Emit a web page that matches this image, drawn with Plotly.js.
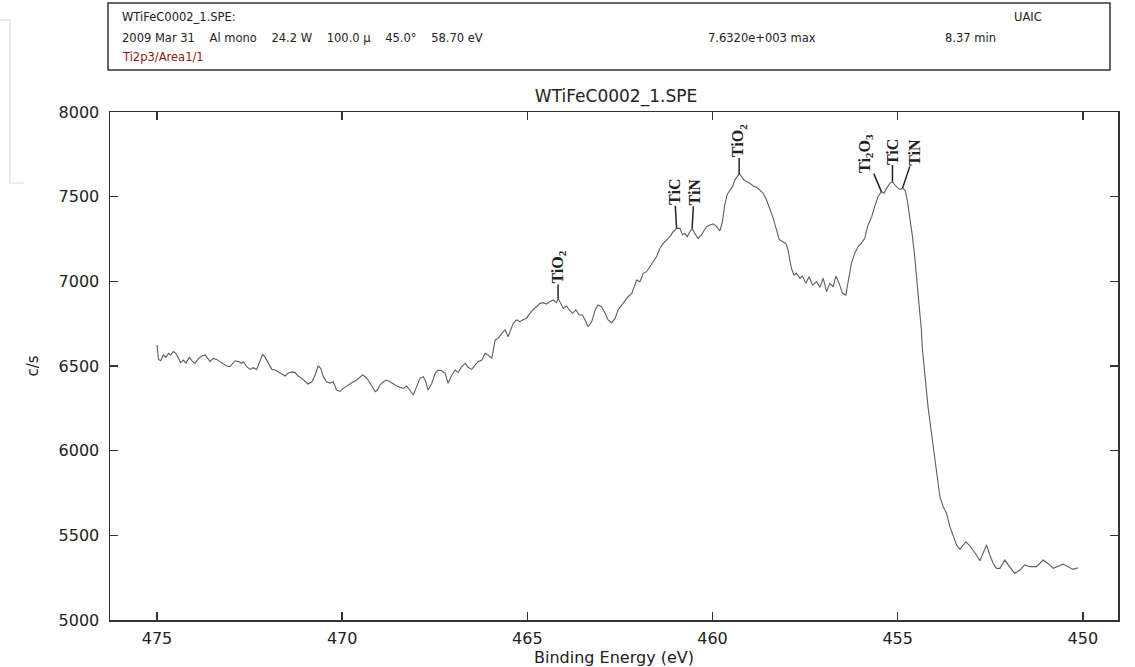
<!DOCTYPE html>
<html><head><meta charset="utf-8">
<script src="https://cdn.plot.ly/plotly-3.0.1.min.js"></script>
<style>html,body{margin:0;padding:0;background:#fff;}#chart{width:1135px;height:667px;}</style>
</head><body><div id="chart"></div>
<script>
// Binding energy (eV) and intensity (c/s)
const bindingEnergy = [
475.00,474.96,474.90,474.83,474.76,474.69,474.63,474.56,474.49,474.43,474.36,474.29,474.22,474.13,474.04,473.97,473.88,473.79,473.70,473.61,
473.57,473.48,473.39,473.30,473.21,473.12,473.03,472.96,472.89,472.80,472.71,472.67,472.58,472.49,472.40,472.31,472.22,472.15,472.08,472.00,
471.90,471.81,471.73,471.64,471.54,471.46,471.36,471.27,471.19,471.09,471.00,470.92,470.82,470.73,470.65,470.58,470.51,470.42,470.33,470.24,
470.15,470.06,469.97,469.88,469.79,469.70,469.61,469.52,469.45,469.38,469.30,469.20,469.11,469.05,468.98,468.89,468.80,468.71,468.62,468.53,
468.44,468.35,468.26,468.17,468.08,467.99,467.90,467.81,467.74,467.68,467.58,467.49,467.41,467.31,467.22,467.14,467.04,466.95,466.87,466.77,
466.68,466.60,466.50,466.41,466.33,466.23,466.14,466.06,465.96,465.87,465.79,465.69,465.60,465.52,465.45,465.38,465.29,465.20,465.11,465.03,
464.93,464.84,464.75,464.66,464.57,464.48,464.39,464.30,464.21,464.17,464.10,464.03,463.94,463.87,463.78,463.69,463.60,463.51,463.44,463.36,
463.26,463.17,463.09,463.00,462.90,462.82,462.72,462.63,462.55,462.45,462.36,462.28,462.18,462.12,462.05,461.96,461.87,461.78,461.69,461.60,
461.51,461.42,461.33,461.24,461.15,461.06,460.97,460.88,460.81,460.75,460.68,460.61,460.55,460.48,460.39,460.30,460.23,460.16,460.07,459.98,
459.89,459.80,459.73,459.67,459.60,459.53,459.46,459.40,459.33,459.28,459.21,459.15,459.08,458.99,458.90,458.81,458.72,458.63,458.54,458.45,
458.36,458.27,458.20,458.11,458.02,457.96,457.91,457.87,457.80,457.73,457.64,457.57,457.48,457.39,457.30,457.19,457.10,457.01,456.92,456.83,
456.74,456.67,456.58,456.49,456.40,456.34,456.25,456.16,456.07,455.98,455.89,455.80,455.70,455.62,455.53,455.44,455.37,455.30,455.21,455.14,
455.08,455.01,454.94,454.87,454.80,454.74,454.67,454.60,454.54,454.49,454.44,454.40,454.36,454.33,454.29,454.24,454.18,454.11,454.04,453.97,
453.91,453.86,453.77,453.68,453.59,453.50,453.41,453.32,453.23,453.16,453.07,452.96,452.87,452.78,452.69,452.60,452.51,452.42,452.33,452.24,
452.11,451.97,451.84,451.70,451.57,451.43,451.25,451.07,450.94,450.80,450.67,450.53,450.40,450.26,450.13
];
const countsPerSecond = [
6624,6539,6531,6565,6551,6575,6565,6585,6575,6545,6520,6535,6516,6551,6526,6516,6545,6559,6565,6539,
6526,6545,6539,6526,6512,6500,6496,6516,6531,6526,6516,6526,6496,6480,6490,6480,6535,6569,6551,6516,
6480,6476,6466,6453,6441,6457,6465,6461,6441,6427,6407,6394,6407,6447,6500,6486,6437,6407,6398,6407,
6358,6350,6368,6382,6398,6407,6417,6433,6447,6437,6417,6382,6348,6358,6388,6407,6417,6407,6394,6382,
6374,6368,6382,6358,6329,6378,6427,6437,6407,6358,6398,6457,6476,6472,6457,6398,6447,6476,6461,6496,
6516,6492,6480,6506,6525,6535,6575,6565,6545,6654,6663,6693,6713,6673,6713,6752,6772,6762,6775,6781,
6811,6835,6850,6870,6874,6866,6880,6890,6874,6899,6870,6840,6854,6831,6811,6831,6801,6801,6772,6732,
6762,6831,6860,6850,6811,6772,6756,6781,6831,6860,6890,6909,6929,6968,7008,6998,7047,7057,7087,7116,
7146,7195,7224,7244,7264,7293,7313,7313,7274,7283,7264,7293,7313,7283,7254,7274,7303,7323,7333,7339,
7323,7298,7355,7450,7515,7535,7559,7598,7618,7634,7618,7598,7589,7579,7563,7555,7539,7520,7480,7431,
7372,7303,7248,7234,7224,7185,7126,7077,7037,7047,7018,7031,6988,7027,6978,6998,6964,7018,6939,6988,
6968,7031,6988,6929,6919,6988,7106,7165,7205,7224,7254,7333,7382,7441,7500,7530,7520,7549,7579,7589,
7569,7555,7543,7549,7539,7480,7382,7264,7146,7027,6909,6811,6713,6594,6496,6378,6260,6142,6023,5905,
5807,5728,5669,5630,5551,5492,5443,5417,5443,5462,5443,5413,5384,5350,5394,5443,5384,5334,5305,5305,
5354,5315,5275,5295,5325,5315,5315,5354,5334,5305,5315,5330,5315,5299,5309
];
const xTickValues = [475, 470, 465, 460, 455, 450];
const yTickValues = [5000, 5500, 6000, 6500, 7000, 7500, 8000];
const peakNames = ["TiO<sub>2</sub>", "TiC", "TiN", "TiO<sub>2</sub>", "Ti<sub>2</sub>O<sub>3</sub>", "TiC", "TiN"];
const peakEnergies = [464.17, 460.97, 460.55, 459.28, 455.44, 455.14, 454.87];
const headerLines = [
  "WTiFeC0002_1.SPE:",
  "2009 Mar 31\u00a0\u00a0\u00a0\u00a0Al mono\u00a0\u00a0\u00a0\u00a024.2 W\u00a0\u00a0\u00a0\u00a0100.0 \u00b5\u00a0\u00a0\u00a0\u00a045.0\u00b0\u00a0\u00a0\u00a0\u00a058.70 eV",
  "Ti2p3/Area1/1"
];
const headerMax = "7.6320e+003 max";
const headerOrg = "UAIC";
const headerTime = "8.37 min";
const chartTitle = "WTiFeC0002_1.SPE";

// pixel helpers (plot area: x 110..1118, y 112..620)
const L = 110, R = 1118, T = 112, B = 620;
const px = v => (v - L) / (R - L);
const py = v => (B - v) / (B - T);

function nearestIndex(e) {
  let best = 0;
  for (let i = 1; i < bindingEnergy.length; i++) {
    if (Math.abs(bindingEnergy[i] - e) < Math.abs(bindingEnergy[best] - e)) best = i;
  }
  return best;
}

const peakOffsets = [[0, -31], [-2, -36], [2, -36], [0, -33], [-16, -38], [0, -30], [12, -36]];
const annotations = peakNames.map((name, i) => {
  const k = nearestIndex(peakEnergies[i]);
  return {
    x: bindingEnergy[k], y: countsPerSecond[k], xref: 'x', yref: 'y',
    text: name, textangle: -90,
    showarrow: true, arrowhead: 0, arrowwidth: 1.5, arrowcolor: '#222', standoff: 0,
    ax: peakOffsets[i][0], ay: peakOffsets[i][1],
    font: {family: 'Liberation Serif, serif', size: 16, color: '#222', weight: 'bold'},
    borderpad: 0
  };
});

const hdrFont = {family: 'DejaVu Sans, sans-serif', size: 11.5, color: '#222'};
const hdrY = [17, 38, 57];
headerLines.forEach((t, i) => annotations.push({
  xref: 'paper', yref: 'paper', x: px(120), y: py(hdrY[i]), xanchor: 'left', yanchor: 'middle',
  text: t, showarrow: false, font: i === 2 ? Object.assign({}, hdrFont, {color: '#8b1a1a'}) : hdrFont
}));
annotations.push({xref: 'paper', yref: 'paper', x: px(706), y: py(38), xanchor: 'left', yanchor: 'middle', text: headerMax, showarrow: false, font: hdrFont});
annotations.push({xref: 'paper', yref: 'paper', x: px(1012), y: py(17), xanchor: 'left', yanchor: 'middle', text: headerOrg, showarrow: false, font: hdrFont});
annotations.push({xref: 'paper', yref: 'paper', x: px(943), y: py(38), xanchor: 'left', yanchor: 'middle', text: headerTime, showarrow: false, font: hdrFont});

const shapes = [
  {type: 'rect', xref: 'paper', yref: 'paper', x0: px(108), x1: px(1110), y0: py(70), y1: py(3), line: {color: '#333', width: 1.5}, fillcolor: 'rgba(0,0,0,0)'},
  {type: 'path', xref: 'paper', yref: 'paper', path: `M ${px(0)} ${py(20)} L ${px(10)} ${py(20)} L ${px(10)} ${py(183)} L ${px(24)} ${py(183)}`, line: {color: '#e6e6e6', width: 1.5}}
];

const axisCommon = {
  ticks: 'inside', ticklen: 8, tickwidth: 1.5, tickcolor: '#333',
  showline: true, linecolor: '#333', linewidth: 1.5, mirror: 'ticks',
  showgrid: false, zeroline: false,
  tickfont: {family: 'DejaVu Sans, sans-serif', size: 16, color: '#222'}
};

const layout = {
  width: 1135, height: 667,
  margin: {l: L, r: 1135 - R, t: T, b: 667 - B, pad: 0},
  paper_bgcolor: '#fff', plot_bgcolor: '#fff', showlegend: false,
  font: {family: 'DejaVu Sans, sans-serif', size: 15, color: '#222'},
  title: {text: chartTitle, x: px(616), xref: 'paper', xanchor: 'center', y: 1 - 96 / 667, yref: 'container', yanchor: 'middle', font: {size: 17, color: '#222'}},
  xaxis: Object.assign({}, axisCommon, {range: [476.27, 449.05], tickvals: xTickValues, ticklabelstandoff: 3,
    title: {text: 'Binding Energy (eV)', standoff: 0, font: {size: 16}}}),
  yaxis: Object.assign({}, axisCommon, {range: [5000, 8000], tickvals: yTickValues, ticklabelstandoff: 6,
    title: {text: 'c/s', standoff: 16, font: {size: 15}}}),
  annotations: annotations,
  shapes: shapes
};

const trace = {
  x: bindingEnergy, y: countsPerSecond, type: 'scatter', mode: 'lines',
  line: {color: '#5e5e5e', width: 1.1}, hoverinfo: 'skip'
};

Plotly.newPlot('chart', [trace], layout, {displayModeBar: false, staticPlot: true});
</script></body></html>
